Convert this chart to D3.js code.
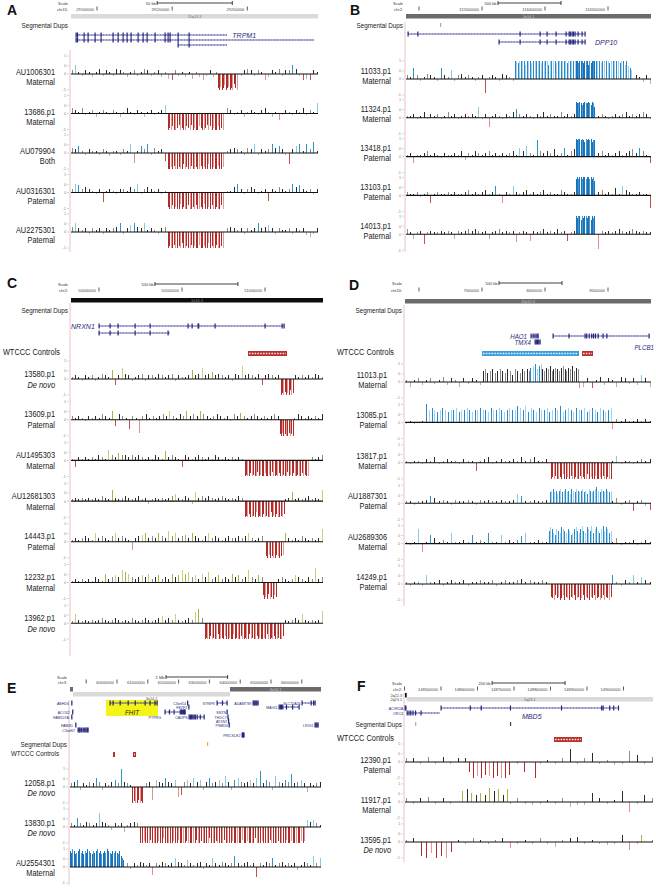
<!DOCTYPE html>
<html><head><meta charset="utf-8">
<script src="https://cdn.jsdelivr.net/npm/d3@7"></script>
<style>body{margin:0;background:#fff}</style>
</head><body><script>
// ================= DATA =================
// genomic domains of each panel
const domA = [29082700, 29247000];
const domB = [114896825, 116841270];
const domC = [49831325, 51349397];
const domD = [6888889, 8841270];
const domE = [58474000, 66623000];
const domF = [148401360, 149080880];

// ruler ticks and labels
const ticksA = [29100000, 29150000, 29200000];
const tickLabA = ["29100000", "29150000", "29200000"];
const ticksB = [115000000, 115500000, 116000000, 116500000];
const tickLabB = ["", "115500000", "116000000", "116500000"];
const ticksC = [50000000, 50500000, 51000000];
const tickLabC = ["50000000", "50500000", "51000000"];
const ticksD = [7000000, 7500000, 8000000, 8500000];
const tickLabD = ["", "7500000", "8000000", "8500000"];
const ticksE = [59000000, 60000000, 61000000, 62000000, 63000000, 64000000, 65000000, 66000000];
const tickLabE = ["", "60000000", "61000000", "62000000", "63000000", "64000000", "65000000", "66000000"];
const ticksF = [148400000, 148500000, 148600000, 148700000, 148800000, 148900000, 149000000];
const tickLabF = ["", "148500000", "148600000", "148700000", "148800000", "148900000", "149000000"];

const scaleBarA = [29140000, 29190000], scaleLabA = "50 kb";
const scaleBarB = [115627000, 116127000], scaleLabB = "500 kb";
const scaleBarC = [50337000, 50837000], scaleLabC = "500 kb";
const scaleBarD = [7635000, 8135000], scaleLabD = "500 kb";
const scaleBarE = [61591000, 63591000], scaleLabE = "2 Mb";
const scaleBarF = [148640000, 148840000], scaleLabF = "200 kb";

// cytobands
const bandsA = [{from: 29082700, to: 29247000, name: "15q13.3", stain: "gneg", row: 0}];
const bandsB = [{from: 114896825, to: 116841270, name: "2q14.1", stain: "gpos75", row: 0}];
const bandsC = [{from: 49831325, to: 51349397, name: "2p16.3", stain: "gpos100", row: 0}];
const bandsD = [{from: 6888889, to: 8841270, name: "20p12.3", stain: "gpos75", row: 0}];
const bandsE = [
  {from: 58474000, to: 58571000, name: "", stain: "gpos75", row: 0},
  {from: 58571000, to: 63669000, name: "3p14.2", stain: "gneg", row: 1},
  {from: 63669000, to: 66623000, name: "3p14.1", stain: "gpos75", row: 0}];
const bandsF = [
  {from: 148401360, to: 148406000, name: "2q22.3", stain: "gpos100", row: 0},
  {from: 148406000, to: 149080880, name: "2q23.1", stain: "gneg", row: 1}];

// segmental dups marks
const segDupA = [];
const segDupB = [{at: 115166667, kind: "grey"}];
const segDupC = [];
const segDupD = [];
const segDupE = [{at: 62922000, kind: "orange"}];
const segDupF = [{at: 148429000, kind: "grey"}, {at: 148689000, kind: "dark"}];

// genes: transcripts with exon starts
const trpm1Exons = [29086026, 29087000, 29091348, 29094008, 29098665, 29102656, 29110638, 29113964, 29117290, 29119951, 29122612, 29127268, 29130594, 29133255, 29138577, 29145229, 29147224, 29148555, 29153876, 29161194];
const genesA = [
  {row: 0, from: 29086026, to: 29186471, exons: trpm1Exons},
  {row: 1, from: 29086026, to: 29244344, exons: trpm1Exons},
  {row: 2, from: 29153876, to: 29186471, exons: [29153876, 29161194]}];
const geneLabA = [{text: "TRPM1", at: 29190000, row: 0, anchor: "start", kind: "main"}];

const dpp10Exons = [115801587, 115960317, 116015873, 116087302, 116166667, 116190476, 116200000, 116214286, 116225000, 116238095, 116261905, 116293651, 116317460];
const genesB = [
  {row: 0, from: 114912698, to: 116317460, exons: [114912698, 114990000].concat(dpp10Exons)},
  {row: 1, from: 115634921, to: 116317460, exons: [115634921].concat(dpp10Exons)}];
const geneLabB = [{text: "DPP10", at: 116396825, row: 1, anchor: "start", kind: "main"}];

const genesC = [
  {row: 0, from: 50000000, to: 51114458, exons: [50000000, 50066265, 50114458, 50216868, 50307229, 50536145, 50560241, 50596386, 50600000, 50698795, 51000000, 51102410, 51114458]},
  {row: 1, from: 50000000, to: 50427711, exons: [50000000, 50066265, 50114458, 50216868, 50307229, 50415663]}];
const geneLabC = [{text: "NRXN1", at: 49975000, row: 0, anchor: "end", kind: "main"}];

const genesD = [
  {row: 0, from: 7888889, to: 7944444, exons: [7888889, 7905000, 7920000, 7935000, 7944444]},
  {row: 1, from: 7920635, to: 7960317, exons: [7920635, 7930000, 7940000, 7950000, 7960317]},
  {row: 0, from: 8063492, to: 8825397, exons: [8063492, 8190000, 8317460, 8330000, 8350000, 8370000, 8385000, 8400000, 8420635, 8460000, 8490000, 8825397]}];
const geneLabD = [
  {text: "HAO1", at: 7857143, row: 0, anchor: "end", kind: "main"},
  {text: "TMX4", at: 7888889, row: 1, anchor: "end", kind: "main"},
  {text: "PLCB1", at: 8865000, row: 2, anchor: "end", kind: "main"}];

const genesE = [
  {row: 0, from: 58530000, to: 58545000, exons: [58530000]},
  {row: 2, from: 58560000, to: 58575000, exons: [58560000]},
  {row: 3, from: 58530000, to: 58545000, exons: [58530000]},
  {row: 5, from: 58660000, to: 58675000, exons: [58660000]},
  {row: 6, from: 58734000, to: 59058000, exons: [58734000, 58770000, 58800000, 58850000, 58900000, 58950000, 58990000, 59030000, 59058000]},
  {row: 0, from: 59773000, to: 61299000, exons: [59773000, 59870000, 60100000, 60360000, 60590000, 60910000, 61070000, 61230000, 61299000]},
  {row: 0, from: 62290000, to: 62310000, exons: [62290000]},
  {row: 1, from: 62330000, to: 62345000, exons: [62330000]},
  {row: 2, from: 61558000, to: 62208000, exons: [61558000, 61700000, 61850000, 62050000, 62090000, 62130000, 62160000, 62190000, 62208000]},
  {row: 3, from: 62338000, to: 62825000, exons: [62338000, 62380000, 62420000, 62460000, 62500000, 62540000, 62600000, 62700000, 62825000]},
  {row: 0, from: 63247000, to: 63571000, exons: [63247000, 63420000, 63571000]},
  {row: 2, from: 63571000, to: 63590000, exons: [63571000]},
  {row: 3, from: 63600000, to: 63615000, exons: [63600000]},
  {row: 4, from: 63620000, to: 63640000, exons: [63620000]},
  {row: 5, from: 63640000, to: 63655000, exons: [63640000]},
  {row: 7, from: 64060000, to: 64120000, exons: [64060000, 64080000, 64100000, 64120000]},
  {row: 0, from: 64416000, to: 64578000, exons: [64416000, 64450000, 64480000, 64510000, 64540000, 64578000]},
  {row: 1, from: 65260000, to: 65909000, exons: [65260000, 65300000, 65340000, 65380000, 65500000, 65700000, 65909000]},
  {row: 0, from: 66006000, to: 66428000, exons: [66006000, 66300000, 66380000, 66428000]},
  {row: 5, from: 66428000, to: 66526000, exons: [66428000, 66460000, 66490000, 66526000]}];
const geneLabE = [
  {text: "ABHD6", at: 58440000, row: 0, anchor: "end", kind: "small"},
  {text: "ACOX2", at: 58470000, row: 2, anchor: "end", kind: "small"},
  {text: "FAM107A", at: 58440000, row: 3, anchor: "end", kind: "small"},
  {text: "FAM3D", at: 58570000, row: 5, anchor: "end", kind: "small"},
  {text: "C3orf67", at: 58640000, row: 6, anchor: "end", kind: "small"},
  {text: "FHIT", at: 60487000, row: 2, anchor: "middle", kind: "fhit"},
  {text: "C3orf14", at: 62240000, row: 0, anchor: "end", kind: "small"},
  {text: "FEZF2", at: 62280000, row: 1, anchor: "end", kind: "small"},
  {text: "PTPRG", at: 61428000, row: 3, anchor: "end", kind: "small"},
  {text: "CADPS", at: 62290000, row: 3, anchor: "end", kind: "small"},
  {text: "SYNPR", at: 63180000, row: 0, anchor: "end", kind: "small"},
  {text: "SNTN", at: 63540000, row: 2, anchor: "end", kind: "small"},
  {text: "THOC7", at: 63560000, row: 3, anchor: "end", kind: "small"},
  {text: "ATXN7", at: 63580000, row: 4, anchor: "end", kind: "small"},
  {text: "PSMD6", at: 63600000, row: 5, anchor: "end", kind: "small"},
  {text: "PRICKLE2", at: 64010000, row: 7, anchor: "end", kind: "small"},
  {text: "ADAMTS9", at: 64360000, row: 0, anchor: "end", kind: "small"},
  {text: "MAGI1", at: 65210000, row: 1, anchor: "end", kind: "small"},
  {text: "SLC25A26", at: 65960000, row: 0, anchor: "end", kind: "small"},
  {text: "LRIG1", at: 66380000, row: 5, anchor: "end", kind: "small"}];
const fhitBox = [59643000, 61331000];

const genesF = [
  {row: 0, from: 148401500, to: 148406000, exons: [148401500, 148403500]},
  {row: 1, from: 148407000, to: 148497000, exons: [148407000, 148412000, 148417000, 148423000, 148430000, 148445000]},
  {row: 0, from: 148500000, to: 148988000, exons: [148500000, 148580000, 148610000, 148690000, 148830000, 148940000, 148944000, 148962000, 148973000, 148986000]}];
const geneLabF = [
  {text: "ACVR2A", at: 148396000, row: 0, anchor: "end", kind: "small"},
  {text: "ORC4", at: 148396000, row: 1, anchor: "end", kind: "small"},
  {text: "MBD5", at: 148722000, row: 2, anchor: "start", kind: "main"}];

// WTCCC control CNVs
const wtcccC = [{from: 50897590, to: 51132530, type: "del"}];
const wtcccD = [{from: 7500000, to: 8269841, type: "dup"}, {from: 8293651, to: 8380952, type: "del"}];
const wtcccE = [{from: 59870000, to: 59935000, type: "del"}, {from: 60519000, to: 60617000, type: "del"}];
const wtcccF = [{from: 148809589, to: 148886301, type: "del"}];

// ---- sample tracks (values in tenths of the log-ratio axis) ----
// Panel A
const bgA1 = [2,5,1,-1,2,1,-2,1,3,-1,2,1,-1,3,2,1,-2,1,2,-1,1,3,2,-1,1,2,-2,1,-3,-4,2,-1,1,-2,1,-3,1,-2,-4,-1,2,-2,1,-1,-3,2,-2,1,3,-1,2,3,2,-1,2,1,-4,-2,2,1,3,-1,2,2,5,3,-1,-4,-3,-4,2,1];
const bgA2 = [3,2,1,3,-1,1,2,-2,1,2,1,-1,2,1,-2,1,3,1,-1,2,1,-2,1,2,-1,1,2,5,4,2,1,-1,2,1,-2,1,2,-1,1,2,-1,1,2,-1,4,3,2,-1,1,2,-2,1,2,1,-1,2,3,1,-2,1,-4,-1,2,1,-1,2,1,3,-1,2,1,6];
const bgA3 = [3,2,4,1,-1,2,1,1,-1,2,1,-2,1,1,-1,2,1,5,-6,1,4,2,5,-1,3,1,2,-5,4,2,1,-1,3,5,2,1,-1,2,1,1,2,-1,1,2,-1,1,2,3,2,1,-1,3,2,5,-1,2,1,2,5,3,4,2,-1,-7,2,4,5,1,5,2,6,1];
const bgA4 = [2,5,4,2,3,2,1,-1,2,-6,1,2,1,-1,2,2,1,3,2,5,-1,2,3,2,1,2,-1,1,2,3,4,2,1,5,-5,2,-1,1,2,-1,1,2,1,-1,2,1,1,3,5,2,-1,2,3,2,-1,1,2,-5,2,1,3,2,1,2,5,3,4,2,1,2,-1,2];
const bgA5 = [3,5,2,1,2,-1,2,1,2,-1,2,1,2,3,5,-1,2,4,5,3,2,5,1,2,1,-1,2,3,7,2,4,1,-1,2,1,-1,2,1,-1,2,1,1,2,-1,6,2,3,2,1,2,-1,2,1,2,5,2,3,4,2,-1,2,1,1,2,-1,2,1,2,-2,-3,-1,2];
const cnvA1 = [{type: "del", from: 29180484, to: 29193123, vals: [-9,-10,-8,-10,-9,-7,-10,-9,-8,-10,-9,-10,-6,-9,-10]}];
const cnvA2 = [{type: "del", from: 29147224, to: 29183810, vals: [-10,-9,-10,-8,-10,-10,-9,-7,-10,-9,-10,-10,-8,-9,-10,-7,-10,-9,-10,-10,-8,-9,-10,-10,-9,-7,-10,-8,-10,-9,-10,-10,-8,-10,-9,-10]}];
const cnvA3 = [{type: "del", from: 29147224, to: 29183810, vals: [-10,-10,-9,-10,-8,-10,-10,-9,-10,-10,-7,-10,-9,-10,-10,-8,-10,-10,-9,-10,-10,-8,-10,-9,-10,-10,-7,-10,-10,-9,-10,-10,-8,-10,-10,-9]}];
const cnvA4 = [{type: "del", from: 29147224, to: 29183810, vals: [-9,-10,-10,-8,-10,-9,-10,-10,-7,-10,-9,-10,-10,-8,-10,-10,-9,-10,-8,-10,-10,-9,-10,-7,-10,-10,-9,-10,-8,-10,-10,-9,-10,-10,-8,-10]}];
const cnvA5 = [{type: "del", from: 29147224, to: 29183810, vals: [-10,-9,-10,-10,-8,-10,-10,-9,-10,-7,-10,-10,-9,-10,-10,-8,-10,-9,-10,-10,-8,-10,-10,-9,-10,-10,-7,-10,-9,-10,-10,-8,-10,-10,-9,-10]}];

// Panel B
const bgB1 = [2,1,6,2,-1,1,3,2,1,-1,6,2,1,5,-1,2,3,1,2,1,-1,1,2,-9,1,2,1,-1,3,2,1,-1,2,4,1,2,1,2,3,4,1,2,1,2,3,1,2,1,1,2,3,1,2,1,1,2,3,1,2,1,2,1,3,2,1,2,-1,2,1,-2,2,-3];
const bgB2 = [1,1,2,-1,1,3,-1,2,1,2,-1,1,3,1,2,-1,1,2,1,2,1,6,-1,2,-6,1,2,1,-1,2,1,3,5,2,1,2,1,-1,2,1,3,1,2,1,1,3,1,2,1,2,1,2,1,1,3,2,1,2,1,-1,1,2,1,2,3,1,2,1,2,3,2,-1];
const bgB3 = [1,2,-4,1,1,2,3,1,2,1,-1,2,1,1,2,1,3,-2,2,1,3,2,1,2,3,1,2,1,2,1,2,3,1,5,3,6,2,1,9,3,2,3,2,4,1,2,5,1,3,4,2,3,1,1,2,4,2,3,1,2,1,2,3,1,2,3,4,2,5,3,1,-4];
const bgB4 = [2,1,1,2,-1,1,2,-5,1,2,1,1,2,1,2,1,1,2,3,1,2,1,2,3,1,2,5,1,-5,2,1,5,2,1,2,3,1,2,1,2,3,1,2,1,1,3,2,1,1,2,1,2,1,3,2,1,2,3,1,2,1,4,1,5,3,2,1,1,2,1,1,-8];
const bgB5 = [3,1,-3,1,2,-6,1,2,1,1,2,1,2,1,-3,2,1,2,3,2,3,2,1,2,-3,1,2,3,1,2,1,2,-5,1,2,1,-4,2,1,2,3,1,2,1,3,1,2,-4,1,2,3,1,2,1,2,3,-9,2,1,2,1,2,3,2,1,2,3,2,1,2,1,1];
const cnvB1 = [
  {type: "dupL", from: 115761905, to: 116238095, vals: [10,10,9,10,10,10,10,8,10,10,10,9,10,10,10,10,10,9,10,10,10,10,8,10,10,10,10,9,10,10,10,10,10,10,9,10,10,10,10,10]},
  {type: "dup", from: 116246032, to: 116396825, vals: [10,10,9,10,10,10,9,10,10,10,8,10,9,10,10,10]},
  {type: "dupL", from: 116404762, to: 116690476, vals: [10,10,10,9,10,10,10,10,9,10,10,10,10,10,9,10,10,8,10,7,6,5]}];
const cnvB2 = [{type: "dup", from: 116246032, to: 116396825, vals: [9,8,8,9,8,7,8,9,8,8,9,8,7,9,8,6]}];
const cnvB3 = [{type: "dup", from: 116246032, to: 116396825, vals: [10,9,10,10,9,10,9,8,10,9,10,9,10,8,9,9]}];
const cnvB4 = [{type: "dup", from: 116246032, to: 116396825, vals: [9,10,9,10,10,9,10,10,9,10,10,9,10,9,10,8]}];
const cnvB5 = [{type: "dup", from: 116246032, to: 116396825, vals: [10,9,10,10,8,10,9,10,10,9,10,10,8,10,9,10]}];

// Panel C
const bgC1 = [1,2,1,-1,2,1,2,-1,1,3,2,1,5,-4,2,6,3,2,-1,1,2,3,-1,2,2,1,3,2,1,2,3,-1,2,1,1,2,5,2,3,6,2,3,4,2,3,2,1,2,-1,3,2,7,2,3,2,1,3,-4,2,3,2,1,2,3,1,2,1,2,1,2,1,2,1,3,2,1];
const bgC2 = [2,1,2,1,-1,2,1,2,1,3,2,1,5,-4,3,2,1,-6,2,1,-8,2,3,1,2,1,2,3,2,5,2,1,3,2,5,2,3,2,5,3,2,1,2,3,2,1,2,-1,3,2,4,2,1,2,3,2,1,2,1,2,3,2,1,2,1,2,1,3,2,1,2,1,2,1,3];
const bgC3 = [1,-4,2,1,2,1,2,1,3,2,1,6,3,2,4,3,3,2,3,2,3,2,1,2,1,3,2,1,5,2,3,2,1,-4,3,2,1,2,3,2,1,2,1,3,2,1,2,1,2,1,2,1,2,1,2,1,2,1,2,1,2,1,3,2,1,2,1,3,1,2,3,1,2,1,2,3];
const bgC4 = [1,2,1,2,1,2,1,2,1,3,2,1,6,2,1,2,3,2,1,2,3,1,2,-2,1,2,1,2,1,2,3,4,2,1,3,2,-2,5,2,3,2,3,2,1,2,3,2,1,2,1,3,2,1,2,1,2,1,2,1,2,1,2,1,2,1,2,5,1,2,1,2,3,1,2,1,6];
const bgC5 = [1,2,1,2,3,2,1,5,2,3,2,1,3,5,2,3,2,1,-5,2,3,4,5,2,3,2,5,3,2,6,3,5,2,3,4,2,5,3,2,1,3,5,2,3,2,1,2,3,2,2,3,2,3,5,2,1,2,3,2,1,2,1,2,3,5,2,1,2,1,3,2,1,2,1,2,7];
const bgC6 = [1,2,1,2,1,2,1,3,2,1,5,2,3,4,3,7,6,5,3,2,3,4,3,5,2,3,4,2,3,2,5,3,4,7,5,6,3,4,2,5,3,6,2,3,4,2,3,2,5,3,4,2,3,7,3,2,4,3,2,3,2,4,2,3,2,1,2,4,3,2,1,3,2,8,2,3];
const bgC7 = [1,5,2,1,2,1,2,1,2,3,2,1,2,3,2,1,2,1,3,2,1,2,3,2,1,2,3,4,2,3,2,5,2,1,2,3,2,6,8,3,2,3,2,1,2,3,2,3,2,1,2,3,2,1,2,1,2,3,2,1,2,1,2,3,2,1,2,3,2,5,2,1,2,1,2,7];
const cnvC1 = [{type: "del", from: 51096386, to: 51168675, vals: [-10,-9,-10,-8,-10,-9,-10,-7,-10,-9]}];
const cnvC2 = [{type: "del", from: 51090361, to: 51168675, vals: [-9,-10,-8,-10,-9,-10,-10,-8,-10,-9,-10]}];
const cnvC3 = [{type: "del", from: 50879518, to: 51259036, vals: [-10,-9,-10,-10,-8,-10,-9,-10,-10,-7,-10,-9,-10,-10,-8,-10,-10,-9,-10,-7,-10,-10,-9,-10,-8,-10,-10,-9,-10,-10,-7,-10,-9,-10,-8,-10,-10,-9,-10,-10,-8,-10,-9,-10,-10]}];
const cnvC4 = [{type: "del", from: 50879518, to: 51114458, vals: [-10,-9,-10,-8,-10,-10,-9,-10,-7,-10,-9,-10,-10,-8,-10,-9,-10,-10,-7,-10,-9,-10,-8,-10,-10,-9,-10,-8]}];
const cnvC5 = [{type: "del", from: 51006024, to: 51108434, vals: [-9,-10,-8,-10,-9,-10,-10,-8,-9,-10,-9,-8]}];
const cnvC6 = [{type: "del", from: 50987952, to: 51066265, vals: [-8,-10,-9,-10,-7,-10,-9,-10,-8,-9]}];
const cnvC7 = [{type: "del", from: 50638554, to: 51108434, vals: [-10,-9,-10,-10,-8,-10,-9,-10,-10,-7,-10,-10,-9,-10,-8,-10,-10,-9,-10,-10,-7,-10,-9,-10,-10,-8,-10,-10,-9,-10,-10,-7,-10,-9,-10,-10,-8,-10,-9,-10,-10,-9,-10,-7,-10,-10,-9,-10,-8,-10,-10,-9,-10,-10,-8]}];

// Panel D
const bgD1 = [1,-3,1,2,-2,1,2,-1,1,3,-2,2,1,-3,2,-1,2,1,-2,1,1,1,1,1,1,1,1,1,1,1,1,1,1,1,1,1,1,1,1,1,1,1,-4,-3,2,-4,1,3,-2,2,1,-3,3,2,-1,2,-2,4,2,-3];
const bgD2 = [-1,1,-1,0,1,0,0,0,0,0,0,0,0,0,0,0,0,0,0,0,0,0,0,0,0,0,0,0,0,0,0,0,0,0,0,0,0,0,0,0,0,0,0,0,0,0,0,0,0,0,-4,2,1,2,1,1,2,1,2,1];
const bgD3 = [1,-1,1,1,-1,2,1,3,-1,1,2,1,1,-1,2,1,1,-5,1,2,3,-1,1,2,1,1,2,1,3,1,2,3,1,1,2,0,0,0,0,0,0,0,0,0,0,0,0,0,0,0,1,4,-1,1,1,-1,1,2,1,2];
const bgD4 = [1,1,-1,1,1,2,4,3,1,2,1,-1,2,1,1,2,1,-1,2,1,2,1,1,2,1,1,2,5,4,1,1,2,1,1,2,0,0,0,0,0,0,0,0,0,0,0,0,0,0,0,1,3,-1,1,2,-5,1,2,-2,-4];
const bgD5 = [1,-1,1,8,-5,1,5,3,1,2,1,6,1,1,2,1,5,1,2,1,6,1,1,5,1,2,1,2,4,6,1,1,2,1,1,0,0,0,0,0,0,0,0,0,0,0,0,0,0,0,1,3,-1,1,1,2,-1,1,2,1];
const bgD6 = [1,-1,1,1,-1,5,1,1,2,-1,1,2,1,1,2,-1,1,1,2,1,1,2,-1,1,2,1,1,2,3,1,2,1,1,2,1,0,0,0,0,0,0,0,0,0,0,0,0,0,0,0,5,1,-1,2,1,5,1,4,2,1];
const cnvD1 = [
  {type: "gray", from: 7507937, to: 7880000, vals: [6,7,5,6,7,5,6,7,6,5,7,6,4,7,6,5,7,6,7,6]},
  {type: "dupL", from: 7888000, to: 7975000, vals: [8,9,10,7,9,10]},
  {type: "gray", from: 7983000, to: 8261905, vals: [7,6,8,7,9,6,7,8,7,6,8,9,7,6,8,7,9,6,8,7]}];
const cnvD2 = [{type: "dupL", from: 7063492, to: 8523810, vals: [10,7,8,7,6,7,8,7,6,7,7,8,6,7,7,8,7,6,7,7,8,7,7,6,8,7,7,8,7,6,7,8,7,7,9,8,7,9,6,8,7,6,8,7,7,8,6,7,8,7,9,6,7,8,7,6,8,7,7,8,6,7,8,7,6,8,7,6,7,8]}];
const cnvD3 = [{type: "del", from: 8047619, to: 8523810, vals: [-10,-9,-10,-8,-10,-10,-9,-10,-7,-10,-10,-9,-10,-8,-10,-10,-9,-10,-10,-8,-10,-9,-10,-10,-7,-10,-9,-10,-10,-8,-10,-10,-9,-10,-8,-10,-10,-9,-10,-10]}];
const cnvD4 = [{type: "dupL", from: 8039683, to: 8523810, vals: [6,7,8,6,7,5,7,8,6,7,8,6,7,5,8,7,6,8,7,6,7,8,6,7,5,8,7,6,7,8,9,7,6,8,7,6,8,7,6,7]}];
const cnvD5 = [{type: "dupL", from: 8031746, to: 8523810, vals: [7,9,8,6,5,8,7,6,9,8,7,6,8,7,5,6,8,9,7,6,8,10,7,6,9,8,7,10,6,8,9,7,6,8,10,7,9,8,6,7]}];
const cnvD6 = [{type: "del", from: 8047619, to: 8523810, vals: [-8,-9,-10,-7,-9,-8,-10,-9,-7,-10,-8,-9,-10,-8,-9,-7,-10,-9,-8,-10,-9,-7,-10,-8,-9,-10,-8,-9,-7,-10,-9,-8,-10,-9,-7,-10,-8,-9,-10,-8]}];

// Panel E
const bgE1 = [2,3,4,-2,2,1,3,2,5,3,-2,2,1,3,4,2,10,3,2,1,3,0,0,0,2,3,-8,4,3,2,5,3,2,4,-6,-5,3,4,2,5,3,4,-2,3,5,2,3,4,2,6,3,-2,4,5,3,2,3,4,2,5,9,2,4,3,-2,6,3,2,4,3,7,2,3,4,2,-3,2,1,2,3];
const bgE2 = [2,1,5,2,1,3,2,1,2,8,3,2,1,-2,2,1,2,-3,1,2,3,2,3,0,0,0,0,0,0,0,0,0,0,0,0,0,0,0,0,0,0,0,0,0,0,0,0,0,0,0,0,0,0,0,0,0,0,0,0,0,0,0,0,0,0,0,0,0,0,0,0,0,0,0,-9,4,3,4,2,1];
const bgE3 = [0,0,0,0,0,0,0,0,0,0,0,0,0,0,0,0,0,1,2,-1,2,1,3,2,1,2,-5,2,1,3,2,1,2,5,3,2,1,4,2,1,2,3,-1,2,1,5,2,1,3,2,1,2,6,2,1,2,3,1,2,-6,2,1,3,2,5,1,2,3,1,2,1,2,-2,1,3,2,1,6,2,5];
const cnvE1 = [{type: "del", from: 60519000, to: 60844000, vals: [-10,-9,-10,-10,-8,-10,-9,-10]}];
const cnvE2 = [{type: "del", from: 60779000, to: 66039000, vals: [-10,-10,-9,-10,-10,-10,-8,-10,-10,-10,-10,-9,-10,-10,-7,-10,-10,-10,-10,-10,-9,-10,-10,-8,-10,-10,-10,-10,-9,-10,-10,-10,-10,-10,-8,-10,-10,-9,-10,-10,-10,-10,-7,-10,-10,-10,-9,-10,-10,-10,-10,-8,-10,-10,-10,-10,-9,-10,-10,-10,-10,-10,-8,-10,-10,-9,-10,-10,-10,-10,-7,-10,-10,-10,-9,-10,-10,-10,-10,-8,-10,-10,-10,-10,-9,-10,-10,-10,-10,-8,-10,-10,-9,-10,-10,-10,-10,-10,-9,-10]}];
const cnvE3 = [{type: "dup", from: 58474000, to: 60227000, vals: [9,8,10,9,7,8,9,10,8,9,7,9,8,10,9,8,7,9,8,9,10,8,9,7,8,9,8,10,9,8,7,9,8,9,8,7,9,6,5,4]}];

// Panel F
const bgF1 = [2,2,-1,3,-1,3,-1,2,2,0,0,0,0,0,0,-1,0,0,-1,1,-1,2,7,-1,2,5,-1,1,-2,-1,6,4,-1,3];
const bgF2 = [2,-1,2,3,-1,2,-1,0,0,0,0,0,0,0,-1,2,-1,-2,-1,1,-1,2,-3,-2,-2,5,2,-1,1,6,-6,-1,4,2];
const bgF3 = [1,2,0,0,0,0,0,1,-1,2,1,-1,1,2,-4,-1,1,-1,2,-1,-3,1,2,3,-1,1,-1,-2,-1,4,-5,-1,0,1];
const cnvF1 = [
  {type: "del", from: 148579452, to: 148689041, vals: [-6,-10,-9,-10,-8,-9,-10,-9,-10,-10,-8]},
  {type: "del", from: 148730000, to: 148760000, vals: [-6,-10]}];
const cnvF2 = [{type: "olive", from: 148560274, to: 148683562, vals: [6,7,5,4,5,4,8,6,7,4,7]}];
const cnvF3 = [
  {type: "del", from: 148445205, to: 148530137, vals: [-9,-10,-7,-10,-9,-10,-6]},
  {type: "olive", from: 149050000, to: 149050000, vals: [4]}];

const tracksA = [
  {name: "AU1006301", sub: "Maternal", bg: bgA1, cnv: cnvA1},
  {name: "13686.p1", sub: "Maternal", bg: bgA2, cnv: cnvA2},
  {name: "AU079904", sub: "Both", bg: bgA3, cnv: cnvA3},
  {name: "AU0316301", sub: "Paternal", bg: bgA4, cnv: cnvA4},
  {name: "AU2275301", sub: "Paternal", bg: bgA5, cnv: cnvA5}];
const tracksB = [
  {name: "11033.p1", sub: "Maternal", bg: bgB1, cnv: cnvB1},
  {name: "11324.p1", sub: "Maternal", bg: bgB2, cnv: cnvB2},
  {name: "13418.p1", sub: "Paternal", bg: bgB3, cnv: cnvB3},
  {name: "13103.p1", sub: "Paternal", bg: bgB4, cnv: cnvB4},
  {name: "14013.p1", sub: "Paternal", bg: bgB5, cnv: cnvB5}];
const tracksC = [
  {name: "13580.p1", sub: "De novo", bg: bgC1, cnv: cnvC1},
  {name: "13609.p1", sub: "Paternal", bg: bgC2, cnv: cnvC2},
  {name: "AU1495303", sub: "Maternal", bg: bgC3, cnv: cnvC3},
  {name: "AU12681303", sub: "Maternal", bg: bgC4, cnv: cnvC4},
  {name: "14443.p1", sub: "Paternal", bg: bgC5, cnv: cnvC5},
  {name: "12232.p1", sub: "Maternal", bg: bgC6, cnv: cnvC6},
  {name: "13962.p1", sub: "De novo", bg: bgC7, cnv: cnvC7}];
const tracksD = [
  {name: "11013.p1", sub: "Maternal", bg: bgD1, cnv: cnvD1},
  {name: "13085.p1", sub: "Paternal", bg: bgD2, cnv: cnvD2},
  {name: "13817.p1", sub: "Maternal", bg: bgD3, cnv: cnvD3},
  {name: "AU1887301", sub: "Paternal", bg: bgD4, cnv: cnvD4},
  {name: "AU2689306", sub: "Maternal", bg: bgD5, cnv: cnvD5},
  {name: "14249.p1", sub: "Paternal", bg: bgD6, cnv: cnvD6}];
const tracksE = [
  {name: "12058.p1", sub: "De novo", bg: bgE1, cnv: cnvE1},
  {name: "13830.p1", sub: "De novo", bg: bgE2, cnv: cnvE2},
  {name: "AU2554301", sub: "Maternal", bg: bgE3, cnv: cnvE3}];
const tracksF = [
  {name: "12390.p1", sub: "Paternal", bg: bgF1, cnv: cnvF1},
  {name: "11917.p1", sub: "Maternal", bg: bgF2, cnv: cnvF2},
  {name: "13595.p1", sub: "De novo", bg: bgF3, cnv: cnvF3}];
const axisTicks = [{v: 1, t: "1"}, {v: 0.45, t: "0"}, {v: 0, t: "0"}, {v: -1, t: "-1"}];

// ================= LAYOUT & DRAWING =================
const FONT = "'Liberation Sans', Arial, Helvetica, sans-serif";
const svg = d3.select("body").append("svg").attr("width", 656).attr("height", 888);
svg.append("rect").attr("width", 656).attr("height", 888).attr("fill", "#fff");

function txt(x, y, s, o = {}) {
  const t = svg.append("text")
    .attr("transform", `translate(${x},${y}) scale(${o.sx || 1},1)`)
    .attr("font-family", FONT).attr("font-size", o.size || 9.5)
    .attr("text-anchor", o.anchor || "start")
    .attr("fill", o.fill || "#1a1a1a").text(s);
  if (o.italic) t.attr("font-style", "italic");
  if (o.bold) t.attr("font-weight", "bold");
  return t;
}

const stainFill = {gneg: "#dadada", gpos75: "#6b6b6b", gpos100: "#0d0d0d"};
const stainText = {gneg: "#777", gpos75: "#c8c8c8", gpos100: "#8a8a8a"};
const NAVY = "#24247e";
const accentCols = {blue: ["#2f93c6", "#8fc8e4"], olive: ["#a6b548", "#c8d07c"]};
const segCols = {
  del: ["#b02c2a", "#b02c2a", "#e39a97"],
  dup: ["#1b72b8", "#1b72b8", "#3f98d4"],
  dupL: ["#2a8ac9", "#a3d2ee"],
  gray: ["#2a2a2a", "#8c8c8c"],
  olive: ["#a6b548", "#2a2a2a"]};

const panels = [
  {id: "A", domain: domA, x0: 71, x1: 318, letter: [7, 15], scaleY: 3, chrY: 9, chr: "chr15:", ticks: ticksA, tickLab: tickLabA,
   sb: scaleBarA, sbLab: scaleLabA, bands: bandsA, bandRows: [14], bandLabels: false, segY: 28, segDup: segDupA,
   genes: genesA, geneLab: geneLabA, geneRows: [35, 40, 45], wtccc: null, wtY: 0,
   tracks: tracksA, top: 74, step: 39.5, labelX: 55, nameDy: 1, subDy: 11, accent: "blue", thr: 4, axis: [50, 252], mainSize: 8},
  {id: "B", domain: domB, x0: 406, x1: 651, letter: [350, 15], scaleY: 3, chrY: 9, chr: "chr2:", ticks: ticksB, tickLab: tickLabB,
   sb: scaleBarB, sbLab: scaleLabB, bands: bandsB, bandRows: [14], bandLabels: false, segY: 28, segDup: segDupB,
   genes: genesB, geneLab: geneLabB, geneRows: [34, 42], wtccc: null, wtY: 0,
   tracks: tracksB, top: 79, step: 38.8, labelX: 391, nameDy: -5.5, subDy: 4.5, accent: "blue", thr: 5, axis: [22, 252], mainSize: 8},
  {id: "C", domain: domC, x0: 71, x1: 323, letter: [7, 288], scaleY: 284, chrY: 290, chr: "chr2:", ticks: ticksC, tickLab: tickLabC,
   sb: scaleBarC, sbLab: scaleLabC, bands: bandsC, bandRows: [298], bandLabels: false, segY: 313, segDup: segDupC,
   genes: genesC, geneLab: geneLabC, geneRows: [326, 333], wtccc: wtcccC, wtY: 351,
   tracks: tracksC, top: 379, step: 40.7, labelX: 55, nameDy: -2.5, subDy: 8.5, accent: "olive", thr: 4, axis: [303, 656], mainSize: 8},
  {id: "D", domain: domD, x0: 405, x1: 651, letter: [349, 290], scaleY: 283, chrY: 290, chr: "chr20:", ticks: ticksD, tickLab: tickLabD,
   sb: scaleBarD, sbLab: scaleLabD, bands: bandsD, bandRows: [299], bandLabels: false, segY: 313, segDup: segDupD,
   genes: genesD, geneLab: geneLabD, geneRows: [336, 342, 347], wtccc: wtcccD, wtY: 351,
   tracks: tracksD, top: 382, step: 40.4, labelX: 387, nameDy: -4, subDy: 6, accent: "blue", thr: 4, axis: [305, 606], mainSize: 7},
  {id: "E", domain: domE, x0: 70, x1: 321, letter: [7, 693], scaleY: 677, chrY: 682, chr: "chr3:", ticks: ticksE, tickLab: tickLabE,
   sb: scaleBarE, sbLab: scaleLabE, bands: bandsE, bandRows: [687, 692], bandLabels: false, segY: 747, segDup: segDupE,
   genes: genesE, geneLab: geneLabE, geneRows: [703, 707, 712, 717, 721, 725, 730, 735], wtccc: wtcccE, wtY: 752,
   tracks: tracksE, top: 787, step: 40, labelX: 55, nameDy: -1.5, subDy: 8.5, accent: "blue", thr: 4, axis: [700, 885], mainSize: 8},
  {id: "F", domain: domF, x0: 405, x1: 653, letter: [357, 691], scaleY: 683, chrY: 689, chr: "chr2:", ticks: ticksF, tickLab: tickLabF,
   sb: scaleBarF, sbLab: scaleLabF, bands: bandsF, bandRows: [693, 697], bandLabels: true, segY: 727, segDup: segDupF,
   genes: genesF, geneLab: geneLabF, geneRows: [708, 713, 716], wtccc: wtcccF, wtY: 737,
   tracks: tracksF, top: 762, step: 40, labelX: 391, nameDy: 0.5, subDy: 10.5, accent: "olive", thr: 11, axis: [693, 862], mainSize: 8}
];

panels.forEach(p => {
  const x = d3.scaleLinear().domain(p.domain).range([p.x0, p.x1]);
  const isE = p.id === "E";

  // pink axis line
  svg.append("line").attr("x1", p.x0 - 1).attr("x2", p.x0 - 1).attr("y1", p.axis[0]).attr("y2", p.axis[1])
    .attr("stroke", "#eac2c2").attr("stroke-width", 1);

  // panel letter
  txt(p.letter[0], p.letter[1], p.id, {size: 14, bold: true, fill: "#111"});

  // ruler
  txt(p.x0 - 3, p.scaleY + 1.5, "Scale", {size: 4, anchor: "end", fill: "#333"});
  txt(p.x0 - 3, p.chrY + 1.5, p.chr, {size: 4, anchor: "end", fill: "#333"});
  const sb0 = x(p.sb[0]), sb1 = x(p.sb[1]);
  svg.append("line").attr("x1", sb0).attr("x2", sb1).attr("y1", p.scaleY).attr("y2", p.scaleY).attr("stroke", "#111").attr("stroke-width", 0.8);
  [sb0, sb1].forEach(v => svg.append("line").attr("x1", v).attr("x2", v).attr("y1", p.scaleY - 2).attr("y2", p.scaleY + 2).attr("stroke", "#111").attr("stroke-width", 0.8));
  txt(sb0 - 1.5, p.scaleY + 1.5, p.sbLab, {size: 4, anchor: "end", fill: "#333"});
  p.ticks.forEach((t, i) => {
    const tx = x(t);
    svg.append("line").attr("x1", tx).attr("x2", tx).attr("y1", p.chrY - 2.5).attr("y2", p.chrY + 1.5).attr("stroke", "#111").attr("stroke-width", 0.7);
    if (p.tickLab[i]) txt(tx - 3, p.chrY + 1.5, p.tickLab[i], {size: 4, anchor: "end", fill: "#444"});
  });

  // bands
  p.bands.forEach(b => {
    const by = p.bandRows[b.row];
    svg.append("rect").attr("x", x(b.from)).attr("y", by).attr("width", Math.max(1, x(b.to) - x(b.from))).attr("height", 4.5)
      .attr("fill", stainFill[b.stain]);
    if (b.name && !p.bandLabels) txt((x(b.from) + x(b.to)) / 2, by + (isE && b.row === 1 ? 7.5 : 3.6), b.name, {size: 3.8, anchor: "middle", fill: isE && b.row === 1 ? "#555" : stainText[b.stain]});
    if (b.name && p.bandLabels) {
      txt(p.x0 - 3, by + 3.8, b.name, {size: 3.8, anchor: "end", fill: "#444"});
      if (b.stain === "gneg") txt((x(b.from) + x(b.to)) / 2, by + 3.6, b.name, {size: 3.8, anchor: "middle", fill: "#666"});
    }
  });

  // segmental dups
  txt(p.x0 - 3, p.segY, "Segmental Dups", {size: 7, anchor: "end", sx: 0.9, fill: "#222"});
  p.segDup.forEach(s => {
    svg.append("rect").attr("x", x(s.at)).attr("y", p.segY - 5).attr("width", 1.2).attr("height", 4)
      .attr("fill", s.kind === "orange" ? "#f0a848" : s.kind === "dark" ? "#444" : "#aaa");
  });

  // FHIT highlight
  if (isE) {
    svg.append("rect").attr("x", x(fhitBox[0])).attr("y", 700).attr("width", x(fhitBox[1]) - x(fhitBox[0])).attr("height", 16).attr("fill", "#f4f416");
  }

  // genes
  p.genes.forEach(gn => {
    const gy = p.geneRows[gn.row];
    const gx0 = x(gn.from), gx1 = x(gn.to);
    svg.append("line").attr("x1", gx0).attr("x2", gx1).attr("y1", gy).attr("y2", gy).attr("stroke", NAVY).attr("stroke-width", 0.7);
    if (gx1 - gx0 > 6) {
      svg.append("line").attr("x1", gx0).attr("x2", gx1).attr("y1", gy).attr("y2", gy).attr("stroke", "#7070c0")
        .attr("stroke-width", 1.8).attr("stroke-dasharray", "0.5,2.5");
    }
    gn.exons.forEach(e => {
      svg.append("rect").attr("x", x(e) - 0.5).attr("y", gy - 2.5).attr("width", 1.2).attr("height", 5).attr("fill", NAVY);
    });
  });
  p.geneLab.forEach(l => {
    const ly = p.geneRows[l.row];
    if (l.kind === "main") txt(x(l.at), ly + 3, l.text, {size: p.mainSize, italic: true, anchor: l.anchor, sx: 0.88, fill: "#2a2a7a"});
    else if (l.kind === "fhit") txt(x(l.at), ly + 2.5, l.text, {size: 7, italic: true, anchor: "middle", sx: 0.9, fill: "#222"});
    else txt(x(l.at), ly + 1.5, l.text, {size: 3.6, anchor: "end", fill: "#2a2a7a"});
  });

  // WTCCC controls
  if (p.wtccc) {
    txt(p.x0 - 11, p.wtY + 3.5, "WTCCC Controls", {size: isE ? 8 : 9.5, anchor: "end", sx: 0.78});
    p.wtccc.forEach(w => {
      const wx0 = x(w.from), wx1 = x(w.to);
      svg.append("rect").attr("x", wx0).attr("y", p.wtY).attr("width", Math.max(2, wx1 - wx0)).attr("height", 5)
        .attr("fill", w.type === "del" ? "#b8302d" : "#3b9fdb");
      svg.append("line").attr("x1", wx0 + 1).attr("x2", wx1 - 1).attr("y1", p.wtY + 2.5).attr("y2", p.wtY + 2.5)
        .attr("stroke", "#fff").attr("stroke-width", 1.4).attr("stroke-dasharray", "1.6,1.2").attr("opacity", 0.85);
    });
  }

  // tracks
  p.tracks.forEach((t, ti) => {
    const b = p.top + ti * p.step;
    const y = d3.scaleLinear().domain([-1, 0, 1]).range([b + 16, b, b - 18]);
    // axis labels
    axisTicks.forEach(a => {
      svg.append("line").attr("x1", p.x0 - 4).attr("x2", p.x0 - 2).attr("y1", y(a.v)).attr("y2", y(a.v)).attr("stroke", "#aaa").attr("stroke-width", 0.5);
      txt(p.x0 - 5, y(a.v) + 1.4, a.t, {size: 3.8, anchor: "end", fill: "#888"});
    });
    // labels
    txt(p.labelX, b + p.nameDy, t.name, {size: 9.5, anchor: "end", sx: 0.78});
    txt(p.labelX, b + p.subDy, t.sub, {size: 9.5, anchor: "end", sx: 0.78, italic: t.sub === "De novo"});

    const covered = xx => t.cnv.some(s => s.vals.length > 1 && xx >= x(s.from) - 1 && xx <= x(s.to) + 1);
    const xi = d3.scaleLinear().domain([0, t.bg.length - 1]).range([p.x0 + 1, p.x1 - 1]);
    const acc = accentCols[p.accent];
    const bars = [];
    t.bg.forEach((v, i) => {
      if (v === 0) return;
      const xx = xi(i);
      if (covered(xx)) return;
      let c;
      if (v >= p.thr) c = acc[i % 2];
      else if (v > 0) c = i % 3 === 0 ? "#8c8c8c" : "#2b2b2b";
      else if (v <= -4) c = i % 2 ? "#c4504c" : "#e0908e";
      else c = "#b3b3b3";
      bars.push({x: xx, v: v / 10, c: c});
    });
    t.cnv.forEach(s => {
      const n = s.vals.length;
      const xs = d3.scaleLinear().domain([0, Math.max(1, n - 1)]).range([x(s.from), x(s.to)]);
      const cols = segCols[s.type];
      s.vals.forEach((v, i) => bars.push({x: xs(i), v: v / 10, c: cols[i % cols.length]}));
    });
    svg.append("g").selectAll("line").data(bars).join("line")
      .attr("x1", d => d.x).attr("x2", d => d.x)
      .attr("y1", y(0)).attr("y2", d => y(d.v))
      .attr("stroke", d => d.c).attr("stroke-width", 1).attr("shape-rendering", "crispEdges");
    svg.append("line").attr("x1", p.x0).attr("x2", p.x1).attr("y1", b).attr("y2", b).attr("stroke", "#111").attr("stroke-width", 1.1);
  });
});
</script></body></html>
